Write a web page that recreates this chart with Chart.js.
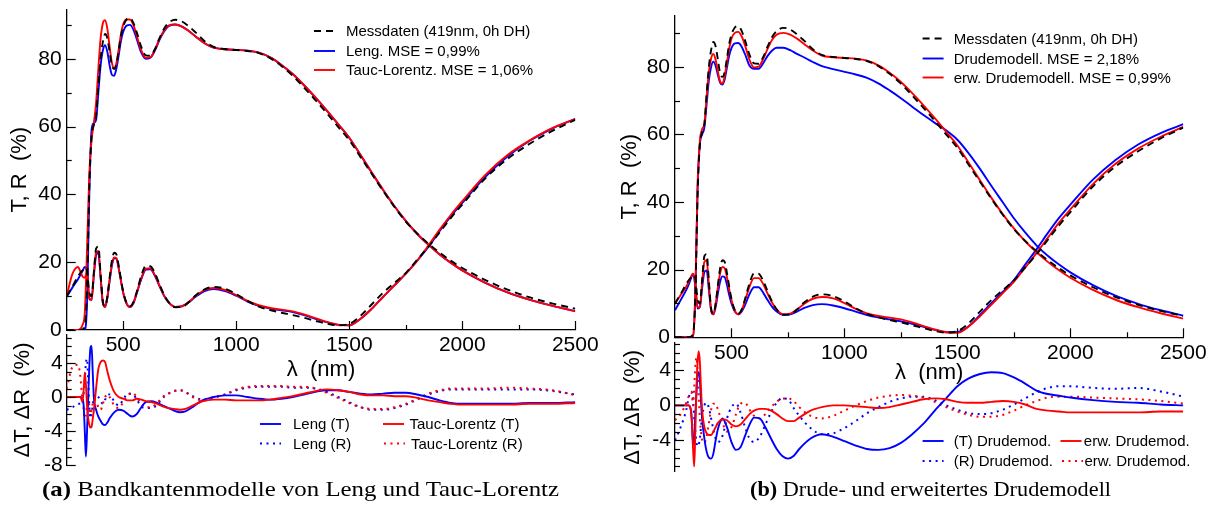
<!DOCTYPE html>
<html>
<head>
<meta charset="utf-8">
<script src="https://cdn.jsdelivr.net/npm/chart.js@4.4.0/dist/chart.umd.min.js"></script>
<style>
  body { margin: 0; width: 1219px; height: 512px; background: #fff; position: relative; overflow: hidden; }
  canvas { position: absolute; }
  .cap { position: absolute; top: 479px; font-family: "Liberation Serif", "Times New Roman", serif; font-size: 21px; line-height: 21px; white-space: nowrap; transform-origin: left top; color: #000; }
</style>
</head>
<body>
<canvas id="mainA" width="600" height="390" style="left:0;top:0"></canvas>
<canvas id="resA" width="600" height="145" style="left:0;top:330px"></canvas>
<canvas id="mainB" width="609" height="395" style="left:610px;top:0"></canvas>
<canvas id="resB" width="609" height="145" style="left:610px;top:337px"></canvas>
<div class="cap" style="left:42px" data-w="517"><b>(a)</b> Bandkantenmodelle von Leng und Tauc-Lorentz</div>
<div class="cap" style="left:750px" data-w="361"><b>(b)</b> Drude- und erweitertes Drudemodell</div>
<script>
// wavelength grid (nm) for the T/R spectra
const wl = [250, 275, 300, 310, 320, 330, 340, 350, 360, 370, 380, 390, 400, 410, 420,
  430, 440, 450, 460, 470, 480, 490, 500, 515, 530, 545, 560, 580, 600, 620,
  640, 660, 680, 700, 730, 760, 790, 820, 860, 900, 950, 1000, 1050, 1100, 1150,
  1200, 1250, 1300, 1350, 1400, 1450, 1500, 1550, 1600, 1650, 1700, 1750, 1800, 1850, 1900,
  1950, 2000, 2100, 2200, 2300, 2400, 2500];

// measured transmission / reflection (%)
const measT = [0, 0, 0, 0, 0.2, 1, 12, 42, 57, 60.5, 63, 72, 80, 85, 87.3,
  86, 82, 78, 77, 78.5, 82.5, 86.8, 89.5, 91.6, 92, 90.6, 87.8, 83.5, 81, 80.9,
  82.8, 86, 88.8, 90.6, 91.5, 91, 89.6, 87.8, 85.2, 83.5, 82.9, 82.6, 82.3, 81.7, 80.2,
  77.9, 75, 71.5, 67.8, 64, 60, 56, 51, 46, 41, 36.3, 32, 28.5, 25.5, 22.8,
  20.4, 18.3, 14.8, 11.9, 9.6, 7.8, 6.3];
const measR = [10, 12.8, 15.8, 16.8, 17.6, 18.4, 17.5, 11, 10, 17, 24, 24.6, 16.5, 8.5, 7,
  10, 15.5, 20.5, 22.8, 22.3, 19, 15, 11.3, 8, 7, 8.2, 11.3, 16, 18.9, 18.8,
  16.8, 13.6, 10.5, 8.3, 6.7, 6.8, 8.2, 10.2, 12, 12.7, 12.2, 10.6, 8.6, 6.9, 5.9,
  5.1, 4.4, 3.6, 2.7, 1.9, 1.4, 1.8, 4.2, 7.6, 11, 13.9, 16.8, 20.7, 24.5, 28.8,
  33.1, 37, 44.6, 50.5, 55, 58.8, 62];

// Leng model
const lengT = [0, 0, 0, 0, 0, 0, 8, 40, 59, 61, 62, 70, 78, 82.5, 84,
  82, 78, 75.3, 75, 77.2, 81, 85.3, 88, 89.8, 90, 88.6, 85.8, 81.8, 80, 80.3,
  82.4, 85.5, 88, 89.6, 90.1, 89.5, 88.2, 86.6, 84.6, 83.3, 82.8, 82.6, 82.4, 81.8, 80.4,
  78.2, 75.5, 72.2, 68.6, 64.8, 60.8, 56.7, 51.6, 46.4, 41.3, 36.5, 32.2, 28.4, 25.2, 22.3,
  19.8, 17.6, 14, 11.1, 8.9, 7.1, 5.6];
const lengR = [9.8, 12.5, 15, 16.2, 17.4, 18.6, 17.5, 9, 9, 16, 22, 22.8, 15.5, 8, 6.8,
  9.5, 14.5, 19, 21.2, 21, 18.2, 14.5, 11, 7.8, 6.8, 7.9, 10.8, 15, 17.8, 17.9,
  16, 13, 10.2, 8.2, 6.8, 7, 8.2, 9.8, 11.5, 12.1, 11.5, 10.1, 8.4, 7.1, 6.3,
  5.8, 5.3, 4.4, 3.3, 2.3, 1.5, 1.4, 3.3, 6.3, 9.8, 13.2, 16.6, 20.4, 24.5, 29.2,
  33.6, 37.5, 45, 51.2, 55.9, 59.5, 62.3];

// Tauc-Lorentz model
const tlT = [0, 0, 0, 0.3, 1.5, 5, 24, 46, 56, 61, 67, 77, 86, 90.5, 91.4,
  88.8, 83.5, 78.8, 77.2, 78.8, 82.8, 87.3, 90.2, 91.6, 91.6, 90, 86.8, 82.5, 80.3, 80.4,
  82.7, 85.8, 88.3, 89.8, 90.1, 89.5, 88.2, 86.6, 84.6, 83.3, 82.8, 82.6, 82.4, 81.8, 80.4,
  78.2, 75.5, 72.2, 68.6, 64.8, 60.8, 56.7, 51.6, 46.4, 41.3, 36.5, 32.2, 28.4, 25.2, 22.3,
  19.8, 17.6, 14, 11.1, 8.9, 7.1, 5.5];
const tlR = [10, 16.5, 18.6, 17.3, 15.8, 15.4, 17, 9.5, 8.8, 16.5, 22.8, 23.3, 15.8, 8, 6.8,
  9.8, 14.8, 19.5, 21.4, 21.2, 18.3, 14.6, 11, 7.8, 6.8, 8, 11, 15.3, 18.1, 18.2,
  16.2, 13.2, 10.3, 8.2, 6.8, 7, 8.3, 10, 11.8, 12.4, 11.8, 10.3, 8.6, 7.3, 6.5,
  6, 5.5, 4.6, 3.5, 2.4, 1.6, 1.4, 3.3, 6.3, 9.8, 13.2, 16.6, 20.4, 24.9, 29.6,
  34, 38, 45.6, 51.6, 56, 59.6, 62.2];

// Drude model
const drudeT = [0, 0, 0, 0, 0, 0, 12, 44, 57, 60, 62, 69, 76, 80, 81.5,
  80.2, 77.5, 75.2, 74.7, 76.3, 79.8, 83.3, 85.5, 86.9, 87, 85.9, 83.7, 80.3, 79.4, 79.4,
  81, 83.2, 84.8, 85.6, 85.6, 84.9, 83.8, 82.8, 81.4, 80.2, 79.3, 78.5, 77.7, 76.7, 75.1,
  73, 70.7, 68.2, 65.7, 63.4, 61.2, 58.4, 54.4, 49.8, 44.8, 40, 35.2, 31, 27.2, 24.1,
  21.5, 19.2, 15.4, 12.3, 9.9, 8, 6.4];
const drudeR = [8, 11, 14, 15.5, 17.3, 18.8, 15, 8.5, 9, 14.5, 19.3, 19.8, 14, 8, 6.8,
  9, 13, 16.5, 18, 17.8, 15.5, 12.5, 10, 7.6, 6.8, 7.6, 9.5, 12.8, 14.8, 14.8,
  13.2, 11, 9, 7.6, 6.6, 6.8, 7.6, 8.6, 9.5, 9.8, 9.4, 8.6, 7.6, 6.6, 5.9,
  5.3, 4.7, 4, 3.1, 2.2, 1.5, 1.6, 3.3, 6.6, 10.1, 13.4, 16.9, 21.5, 26, 30.8,
  35.3, 39.2, 46.6, 52.4, 57, 60.4, 63];

// extended Drude model
const erwT = [0, 0, 0, 0, 0, 0.5, 14, 45, 58, 61.5, 63, 71, 78.5, 82.5, 83.8,
  82, 78.5, 75.6, 75, 77.3, 81.3, 85.4, 88.3, 90, 90.3, 89, 86.3, 82, 79.8, 80,
  82.3, 85.3, 88, 89.5, 90, 89.5, 88.3, 86.8, 84.8, 83.3, 82.8, 82.6, 82.4, 81.8, 80.4,
  78.2, 75.5, 72.2, 68.6, 64.8, 60.8, 56.7, 51.6, 46.4, 41.3, 36.5, 32.2, 28.4, 25.2, 22.3,
  19.8, 17.6, 14, 11.1, 8.9, 7.1, 5.5];
const erwR = [10, 12.5, 15, 16.3, 17.8, 18.8, 16, 9, 8.8, 16, 22.3, 22.8, 15.5, 8, 6.8,
  9.8, 14.8, 19, 20.8, 20.4, 17.8, 14.2, 11, 7.8, 6.8, 8, 10.8, 15, 17.5, 17.5,
  15.8, 12.9, 10.2, 8.2, 6.8, 7, 8.2, 9.8, 11.4, 11.9, 11.5, 10.1, 8.4, 7.1, 6.3,
  5.8, 5.3, 4.4, 3.3, 2.3, 1.5, 1.3, 3.2, 6.2, 9.6, 13, 16.4, 20.6, 24.9, 29.4,
  33.9, 37.8, 45.3, 51.3, 55.8, 59.3, 62.2];

// wavelength grid (nm) for the residuals model - measurement
const resWl = [250, 275, 300, 310, 320, 325, 330, 335, 340, 345, 350, 355, 360, 365, 370,
  380, 390, 400, 410, 420, 430, 440, 460, 480, 500, 520, 540, 560, 580, 600,
  625, 650, 675, 700, 725, 750, 775, 800, 850, 900, 950, 1000, 1050, 1100, 1150,
  1200, 1250, 1300, 1350, 1400, 1450, 1500, 1550, 1600, 1650, 1700, 1750, 1800, 1850, 1900,
  1950, 2000, 2100, 2200, 2300, 2400, 2500];

const lengDT = [0, 0, 0, 0, -0.3, -1, -4, -7, -4, 0, 3.5, 5.8, 6, 3, 0,
  -1.5, -2.3, -2.8, -3.2, -3.3, -3, -2.5, -1.8, -1.5, -1.6, -2, -2.3, -2, -1.2, -0.6,
  -0.5, -0.7, -1, -1.3, -1.6, -1.8, -1.7, -1.3, -0.4, 0, 0.2, 0.2, 0, -0.2, -0.3,
  -0.2, 0, 0.3, 0.6, 0.8, 0.8, 0.6, 0.4, 0.3, 0.4, 0.5, 0.5, 0.3, 0, -0.4,
  -0.7, -0.8, -0.8, -0.8, -0.7, -0.7, -0.6];
const lengDR = [-1.5, -1.2, -0.8, -0.8, -0.5, 0.5, 2, 4, 4.5, 2, -1, -2.5, -2, -1, 0,
  0.3, 0, -0.5, -0.8, -0.3, 0.2, 0.3, -0.5, -1, -0.3, 0.4, 0.4, -0.3, -1.1, -1.3,
  -1.3, -0.9, -0.1, 0.4, 0.7, 0.8, 0.6, 0.2, -0.3, 0, 0.3, 0.8, 1.1, 1.2, 1.2,
  1.2, 1.1, 1.1, 1, 0.6, 0, -0.6, -1.2, -1.5, -1.5, -1.3, -0.9, -0.3, 0.3, 0.7,
  0.9, 0.9, 0.9, 0.9, 0.9, 0.7, 0.3];
const tlDT = [0, 0, 0, 0, -0.5, 0.8, 2.9, 1.5, -1, -2.5, -3.3, -3.6, -3.5, -2.6, -1.6,
  1, 3.3, 4.1, 4.3, 4.1, 3, 2, 0.6, 0, -0.2, -0.4, -0.4, -0.2, -0.3, -0.5,
  -0.6, -0.8, -1.1, -1.3, -1.4, -1.5, -1.4, -1.1, -0.5, -0.3, -0.3, -0.4, -0.4, -0.4, -0.3,
  -0.1, 0.1, 0.4, 0.7, 0.9, 0.8, 0.6, 0.3, 0.2, 0.2, 0.1, 0.1, -0.1, -0.4, -0.6,
  -0.8, -0.9, -0.9, -0.9, -0.8, -0.8, -0.7];
const tlDR = [1, 3.5, 3.8, 2.5, -0.5, -1.5, -2.5, -2, -1, 0, -1, -2, -1.5, -0.8, -0.3,
  -0.5, -1.2, -1.5, -0.8, 0, 0.3, 0, -1, -1.3, -0.6, 0.2, 0.5, 0, -0.8, -1.2,
  -1.2, -0.7, 0, 0.4, 0.7, 0.8, 0.6, 0.1, -0.4, -0.1, 0.3, 0.9, 1.2, 1.3, 1.3,
  1.3, 1.2, 1.2, 1, 0.5, -0.1, -0.7, -1.2, -1.4, -1.4, -1.2, -0.8, -0.2, 0.4, 0.8,
  1, 1, 1, 1.1, 1, 0.8, 0.2];

const drudeDT = [0, 0, 0, 0, -0.5, -2, -4.5, -4, -1, 1.5, 3.5, 3.8, 3, 0.5, -1.5,
  -3.8, -5.3, -6, -6.1, -5.5, -4, -2.7, -1.5, -2.5, -4.2, -5.1, -4.8, -3.5, -2.2, -1.4,
  -1.5, -2.5, -3.8, -5, -5.8, -6.1, -5.8, -5, -3.8, -3.3, -3.6, -4.1, -4.6, -5, -5.1,
  -4.9, -4.3, -3.3, -2.1, -0.6, 0.8, 2.2, 3.1, 3.6, 3.8, 3.7, 3.2, 2.5, 1.7, 1.3,
  1.1, 0.9, 0.6, 0.4, 0.3, 0.1, 0];
const drudeDR = [-4, -2.5, -0.5, 0.8, 1.6, 1.5, 0.5, -1.5, -3, -4.2, -4.7, -4.5, -3.8, -2.5, -1.3,
  0, 0.3, -0.3, -1.5, -2.8, -3.8, -4.2, -3.5, -1.5, -0.2, 0.2, -0.8, -2.5, -3.8, -4.2,
  -3.6, -2.2, -0.8, 0.3, 0.8, 0.7, -0.3, -1.2, -2.6, -3.3, -3.2, -2.6, -1.8, -0.9, -0.2,
  0.4, 0.8, 1, 1, 0.6, 0, -0.5, -0.9, -1, -0.9, -0.5, 0.1, 0.8, 1.5, 2,
  2.2, 2.2, 2, 1.9, 2, 1.6, 1];
const erwDT = [0, 0, 0, 0, -0.5, -2, -5, -7, -3, 2, 5, 6.2, 5, 2, -0.5,
  -2.5, -3.2, -3.4, -3.4, -3, -2.5, -2, -1.6, -1.7, -2.2, -2.4, -2.2, -1.6, -1, -0.6,
  -0.4, -0.4, -0.6, -1, -1.5, -1.8, -1.8, -1.4, -0.6, -0.2, 0, 0, -0.1, -0.2, -0.3,
  -0.2, 0.1, 0.4, 0.7, 0.8, 0.7, 0.4, 0.3, 0.3, 0.4, 0.5, 0.4, 0.1, -0.4, -0.6,
  -0.7, -0.8, -0.8, -0.8, -0.8, -0.7, -0.7];
const erwDR = [-1.7, -1, 0.3, 1, 1.5, 1.2, 0, 2, 4.5, 5.5, 4, 1, -1.5, -3, -4,
  -4.3, -3.5, -2, -0.5, 0.2, 0.2, -0.5, -2, -3, -2.5, -1, 0.2, 0.3, -0.5, -1.2,
  -1.5, -1, -0.2, 0.4, 0.8, 0.8, 0.5, -0.2, -1.2, -1.5, -1.2, -0.6, 0, 0.5, 0.9,
  1.1, 1.2, 1.1, 0.9, 0.4, -0.2, -0.7, -1.1, -1.3, -1.3, -1.1, -0.6, 0, 0.5, 0.9,
  1, 1, 0.9, 0.8, 0.7, 0.5, 0.2];

// axis ticks
const xTicks = [500, 1000, 1500, 2000, 2500];
const xMinor = [750, 1250, 1750, 2250];
const trTicks = [0, 20, 40, 60, 80];
const trMinor = [10, 30, 50, 70, 90];
const resTicksA = [-8, -4, 0, 4];
const resTicksB = [-4, 0, 4];
const resMinor = [-7, -6, -5, -3, -2, -1, 1, 2, 3, 5, 6, 7];

const BLUE = '#0000ff';
const RED = '#ff0000';
const BLACK = '#000000';
const SANS = '"Liberation Sans", Arial, Helvetica, sans-serif';

Chart.defaults.font.family = SANS;
Chart.defaults.color = '#000';

function series(label, xs, ys, color, style) {
  return {
    label,
    data: xs.map((x, i) => ({ x, y: ys[i] })),
    borderColor: color,
    borderWidth: style === 'dot' ? 2 : 1.9,
    borderDash: style === 'dash' ? [7, 5] : style === 'dot' ? [2, 4.5] : [],
    pointRadius: 0,
    cubicInterpolationMode: 'monotone',
    fill: false
  };
}

// short tick marks pointing into the plot area
const inwardTicks = {
  id: 'inwardTicks',
  afterDatasetsDraw(chart, args, opts) {
    const { ctx, chartArea: a, scales } = chart;
    ctx.save();
    ctx.strokeStyle = '#000';
    ctx.lineWidth = 1.2;
    const mark = (axis, list, len) => (list || []).forEach(v => {
      const p = Math.round(scales[axis].getPixelForValue(v)) + 0.5;
      ctx.beginPath();
      if (axis === 'x') { ctx.moveTo(p, a.bottom); ctx.lineTo(p, a.bottom - len); }
      else { ctx.moveTo(a.left, p); ctx.lineTo(a.left + len, p); }
      ctx.stroke();
    });
    if (opts.x) { mark('x', opts.x.major, 9); mark('x', opts.x.minor, 5); }
    if (opts.y) { mark('y', opts.y.major, 9); mark('y', opts.y.minor, 5); }
    ctx.restore();
  }
};

// legend entries: a short line sample in the dataset's style plus its label
const lineLegend = {
  id: 'lineLegend',
  afterDraw(chart, args, opts) {
    const ctx = chart.ctx;
    ctx.save();
    ctx.font = '15px ' + SANS;
    ctx.textBaseline = 'middle';
    ctx.fillStyle = '#000';
    (opts.items || []).forEach(it => {
      const ds = chart.data.datasets[it.ds];
      ctx.strokeStyle = ds.borderColor;
      ctx.lineWidth = ds.borderWidth;
      ctx.setLineDash(ds.borderDash || []);
      ctx.beginPath();
      ctx.moveTo(it.x, it.y);
      ctx.lineTo(it.x + 21, it.y);
      ctx.stroke();
      ctx.setLineDash([]);
      ctx.fillText(ds.label, it.tx, it.y + 1);
    });
    ctx.restore();
  }
};

function tickList(list) {
  return scale => { scale.ticks = list.map(value => ({ value })); };
}

function mainChart(id, datasets, g) {
  return new Chart(document.getElementById(id), {
    type: 'line',
    data: { datasets },
    options: {
      responsive: false,
      animation: false,
      devicePixelRatio: 1,
      layout: { padding: { left: 0, top: g.top, right: g.right, bottom: 0 } },
      scales: {
        x: {
          type: 'linear', min: 250, max: 2500,
          afterBuildTicks: tickList(xTicks),
          afterFit: s => { s.height = g.xh; s.paddingLeft = 0; s.paddingRight = 0; },
          grid: { display: false, drawTicks: false },
          border: { display: true, color: '#000', width: 1.3 },
          ticks: { font: { size: 21 }, padding: g.xpad, maxRotation: 0, autoSkip: false, callback: v => String(v) },
          title: { display: true, text: 'λ  (nm)', font: { size: 22 }, padding: { top: 0, bottom: g.xtitle } }
        },
        y: {
          type: 'linear', min: 0, max: g.ymax,
          afterBuildTicks: tickList(trTicks),
          afterFit: s => { s.width = g.yw; s.paddingTop = 0; s.paddingBottom = 0; },
          grid: { display: false, drawTicks: false },
          border: { display: true, color: '#000', width: 1.3 },
          ticks: { font: { size: 21 }, padding: 5, callback: v => String(v) },
          title: { display: true, text: 'T, R  (%)', font: { size: 22 }, padding: { top: 7, bottom: 0 } }
        }
      },
      plugins: {
        legend: { display: false },
        tooltip: { enabled: false },
        inwardTicks: { x: { major: xTicks, minor: xMinor }, y: { major: trTicks, minor: trMinor } },
        lineLegend: { items: g.legend }
      }
    },
    plugins: [inwardTicks, lineLegend]
  });
}

function residualChart(id, datasets, g) {
  return new Chart(document.getElementById(id), {
    type: 'line',
    data: { datasets },
    options: {
      responsive: false,
      animation: false,
      devicePixelRatio: 1,
      layout: { padding: { left: 0, top: g.top, right: g.right, bottom: g.bottom } },
      scales: {
        x: { type: 'linear', min: 250, max: 2500, display: false },
        y: {
          type: 'linear', min: g.ymin, max: g.ymax,
          afterBuildTicks: tickList(g.ticks),
          afterFit: s => { s.width = g.yw; s.paddingTop = 0; s.paddingBottom = 0; },
          grid: { display: false, drawTicks: false },
          border: { display: true, color: '#000', width: 1.3 },
          ticks: { font: { size: 21 }, padding: 4, callback: v => String(v) },
          title: { display: true, text: 'ΔT, ΔR  (%)', font: { size: 22 }, padding: { top: 10, bottom: 0 } }
        }
      },
      plugins: {
        legend: { display: false },
        tooltip: { enabled: false },
        inwardTicks: { y: { major: g.ticks, minor: resMinor } },
        lineLegend: { items: g.legend }
      }
    },
    plugins: [inwardTicks, lineLegend]
  });
}

// (a) Leng and Tauc-Lorentz
mainChart('mainA', [
  series('Messdaten (419nm, 0h DH)', wl, measT, BLACK, 'dash'),
  series('Messdaten (419nm, 0h DH)', wl, measR, BLACK, 'dash'),
  series('Tauc-Lorentz. MSE = 1,06%', wl, tlT, RED, 'solid'),
  series('Tauc-Lorentz. MSE = 1,06%', wl, tlR, RED, 'solid'),
  series('Leng. MSE = 0,99%', wl, lengT, BLUE, 'solid'),
  series('Leng. MSE = 0,99%', wl, lengR, BLUE, 'solid')
], {
  top: 9.3, right: 24.7, xh: 60, yw: 66.7, ymax: 94.6, xpad: 2.5, xtitle: 6.8,
  legend: [
    { ds: 0, x: 314, y: 31, tx: 346 },
    { ds: 4, x: 314, y: 51, tx: 346 },
    { ds: 2, x: 314, y: 70, tx: 346 }
  ]
});

residualChart('resA', [
  series('Tauc-Lorentz (T)', resWl, tlDT, RED, 'solid'),
  series('Leng (T)', resWl, lengDT, BLUE, 'solid'),
  series('Tauc-Lorentz (R)', resWl, tlDR, RED, 'dot'),
  series('Leng (R)', resWl, lengDR, BLUE, 'dot')
], {
  top: 5, bottom: 10, right: 24.7, yw: 66.7, ymin: -8, ymax: 7.3, ticks: resTicksA,
  legend: [
    { ds: 1, x: 260, y: 94, tx: 293 },
    { ds: 0, x: 383, y: 94, tx: 409.5 },
    { ds: 3, x: 260, y: 113.5, tx: 293 },
    { ds: 2, x: 384, y: 113.5, tx: 411 }
  ]
});

// (b) Drude and extended Drude
mainChart('mainB', [
  series('Messdaten (419nm, 0h DH)', wl, measT, BLACK, 'dash'),
  series('Messdaten (419nm, 0h DH)', wl, measR, BLACK, 'dash'),
  series('erw. Drudemodell. MSE = 0,99%', wl, erwT, RED, 'solid'),
  series('erw. Drudemodell. MSE = 0,99%', wl, erwR, RED, 'solid'),
  series('Drudemodell. MSE = 2,18%', wl, drudeT, BLUE, 'solid'),
  series('Drudemodell. MSE = 2,18%', wl, drudeR, BLUE, 'solid')
], {
  top: 16, right: 35.7, xh: 57.7, yw: 65, ymax: 95, xpad: 3.3, xtitle: 8.8,
  legend: [
    { ds: 0, x: 312.6, y: 38.5, tx: 343.7 },
    { ds: 4, x: 312.6, y: 58.5, tx: 343.7 },
    { ds: 2, x: 312.6, y: 77.5, tx: 343.7 }
  ]
});

residualChart('resB', [
  series('erw. Drudemod.', resWl, erwDT, RED, 'solid'),
  series('(T) Drudemod.', resWl, drudeDT, BLUE, 'solid'),
  series('erw. Drudemod.', resWl, erwDR, RED, 'dot'),
  series('(R) Drudemod.', resWl, drudeDR, BLUE, 'dot')
], {
  top: 6, bottom: 10.3, right: 35.7, yw: 65, ymin: -7.6, ymax: 7.15, ticks: resTicksB,
  legend: [
    { ds: 1, x: 312.6, y: 104, tx: 343.7 },
    { ds: 0, x: 450.5, y: 104, tx: 473.8 },
    { ds: 3, x: 312.6, y: 124, tx: 343.7 },
    { ds: 2, x: 452, y: 124, tx: 474.5 }
  ]
});

// stretch the captions to their set widths
document.querySelectorAll('.cap').forEach(el => {
  const w = el.getBoundingClientRect().width;
  el.style.transform = 'scaleX(' + (Number(el.dataset.w) / w) + ')';
});
</script>
</body>
</html>
